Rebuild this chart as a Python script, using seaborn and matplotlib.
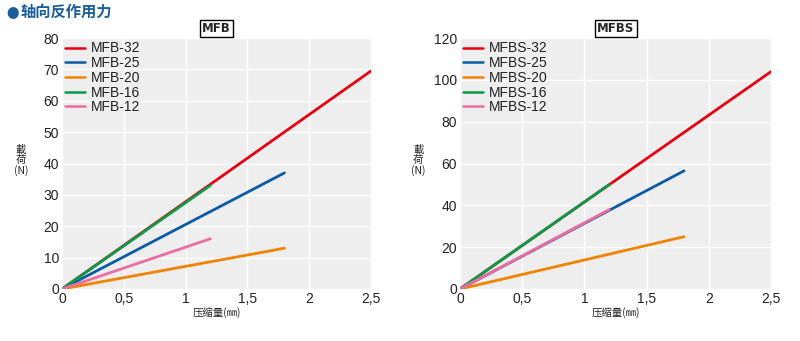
import matplotlib
matplotlib.use("Agg")
import matplotlib.pyplot as plt
import seaborn as sns
import pandas as pd

# Axial reaction force: load vs. compression for each model size
mfb_series = ["MFB-32", "MFB-25", "MFB-20", "MFB-16", "MFB-12"]
mfb_stroke = [2.5, 1.8, 1.8, 1.2, 1.2]   # max compression (mm)
mfb_load = [69.5, 37, 13, 33, 16]         # load at max compression (N)

mfbs_series = ["MFBS-32", "MFBS-25", "MFBS-20", "MFBS-16", "MFBS-12"]
mfbs_stroke = [2.5, 1.8, 1.8, 1.2, 1.2]
mfbs_load = [104, 56.5, 25, 50, 38]

colors = ["#e60012", "#0b5aa6", "#f08300", "#0a9a48", "#ec6d9f"]

x_ticks = [0, 0.5, 1, 1.5, 2, 2.5]
x_tick_labels = ["0", "0,5", "1", "1,5", "2", "2,5"]

sns.set_theme(style="darkgrid", rc={
    "axes.facecolor": "#eeeeee",
    "grid.color": "white",
    "grid.linewidth": 1.0,
})
plt.rcParams["font.family"] = ["Noto Sans CJK SC", "DejaVu Sans"]

fig = plt.figure(figsize=(8, 3.41), dpi=100)
ax_l = fig.add_axes([0.0775, 0.1525, 0.3862, 0.736])
ax_r = fig.add_axes([0.575, 0.1525, 0.389, 0.736])

text_color = "#222222"
latin = ["Liberation Sans", "DejaVu Sans"]


def build_frame(names, strokes, loads):
    rows = []
    for n, s, v in zip(names, strokes, loads):
        rows.append({"model": n, "stroke": 0.0, "load": 0.0})
        rows.append({"model": n, "stroke": s, "load": v})
    return pd.DataFrame(rows)


def draw(ax, names, strokes, loads, ymax, ystep, title):
    df = build_frame(names, strokes, loads)
    sns.lineplot(data=df, x="stroke", y="load", hue="model", hue_order=names,
                 palette=colors, linewidth=2.0, ax=ax, sort=False)
    ax.set_xlim(0, 2.5)
    ax.set_ylim(0, ymax)
    ax.set_xticks(x_ticks)
    ax.set_xticklabels(x_tick_labels)
    ax.set_yticks(list(range(0, ymax + 1, ystep)))
    ax.tick_params(axis="both", labelsize=10, colors=text_color, pad=2, length=0)
    for lbl in ax.get_xticklabels() + ax.get_yticklabels():
        lbl.set_family(latin)
    ax.set_xlabel("压缩量(㎜)", fontsize=7.5, color=text_color, labelpad=1)
    ax.set_ylabel("")
    for s in ax.spines.values():
        s.set_visible(False)
    leg = ax.legend(loc="upper left", frameon=False, handlelength=1.4,
                    handletextpad=0.4, labelspacing=0.05, borderaxespad=0.1,
                    borderpad=0.15, prop={"family": latin, "size": 10})
    for t in leg.get_texts():
        t.set_color(text_color)
    for h in leg.get_lines():
        h.set_linewidth(1.8)
    ax.text(0.5, 1.012, title, transform=ax.transAxes, ha="center", va="bottom",
            fontsize=8.5, fontweight="bold", family=["DejaVu Sans"],
            bbox=dict(boxstyle="square,pad=0.2", fc="white", ec="black", lw=1.0))


draw(ax_l, mfb_series, mfb_stroke, mfb_load, 80, 10, "MFB")
draw(ax_r, mfbs_series, mfbs_stroke, mfbs_load, 120, 20, "MFBS")

# Vertical stacked y-axis captions
for xpos in (0.026, 0.523):
    fig.text(xpos, 0.53, "載\n荷\n(N)", ha="center", va="center", fontsize=7.5,
             color=text_color, linespacing=1.0)

# Section header
fig.text(0.008, 0.978, "●", color="#1b5e9a", fontsize=9, ha="left", va="top")
fig.text(0.026, 0.99, "轴向反作用力", color="#1b5e9a", fontsize=11,
         fontweight="bold", ha="left", va="top")

fig.savefig("out.png", dpi=100)
